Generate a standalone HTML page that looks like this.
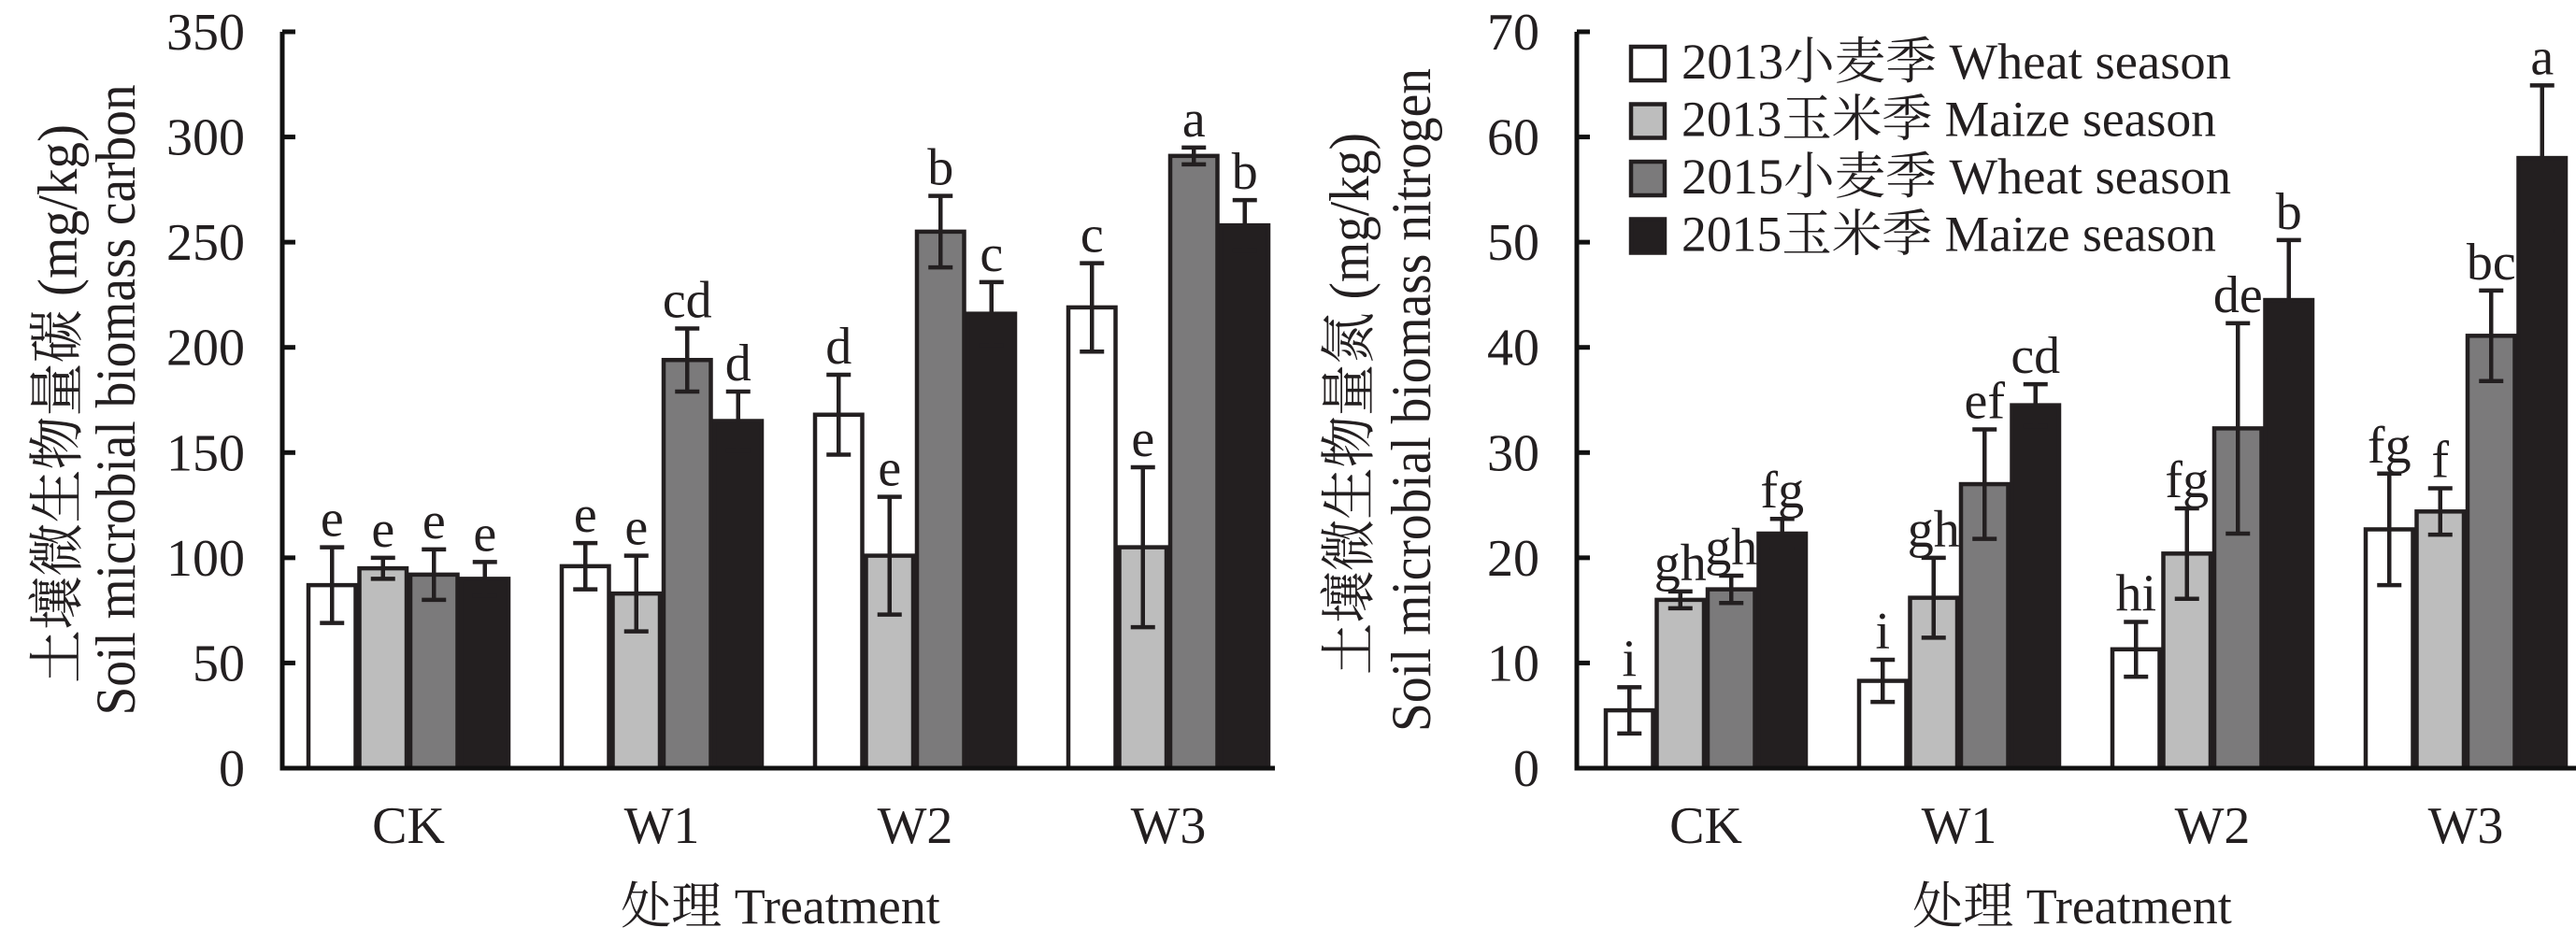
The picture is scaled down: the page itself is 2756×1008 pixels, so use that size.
<!DOCTYPE html>
<html><head><meta charset="utf-8"><style>
html,body{margin:0;padding:0;background:#fff;}
svg{display:block;}
text{font-family:"Liberation Serif","Noto Serif CJK SC","Noto Sans CJK SC",serif;fill:#231f20;}
</style></head><body>
<svg id="chart" width="2756" height="1008" viewBox="0 0 2756 1008" xmlns="http://www.w3.org/2000/svg"></svg>
<script>
const categories = ["CK","W1","W2","W3"];
const seriesNames = ["2013小麦季 Wheat season","2013玉米季 Maize season","2015小麦季 Wheat season","2015玉米季 Maize season"];
const carbonVals = [[87,95,92,90],[96,83,194,165],[168,101,255,216],[219,105,291,258]];
const carbonErr = [[18,5,12,8],[11,18,15,14],[19,28,17,15],[21,38,4,12]];
const carbonLetters = [["e","e","e","e"],["e","e","cd","d"],["d","e","b","c"],["c","e","a","b"]];
const carbonTicks = [0,50,100,150,200,250,300,350];
const nitroVals = [[5.5,16,17,22.3],[8.3,16.2,27,34.5],[11.3,20.4,32.3,44.5],[22.7,24.4,41.1,58]];
const nitroErr = [[2.2,0.8,1.3,1.4],[2,3.8,5.2,2],[2.6,4.3,10,5.7],[5.3,2.2,4.3,6.9]];
const nitroLetters = [["i","gh","gh","fg"],["i","gh","ef","cd"],["hi","fg","de","b"],["fg","f","bc","a"]];
const nitroTicks = [0,10,20,30,40,50,60,70];

const NS="http://www.w3.org/2000/svg";
const svg=document.getElementById('chart');
const fills=["#ffffff","#bdbdbd","#7b7a7b","#231f20"];
function mk(tag,attrs,parent){const e=document.createElementNS(NS,tag);for(const k in attrs)e.setAttribute(k,attrs[k]);(parent||svg).appendChild(e);return e;}

function drawPanel(p){
  const g=mk('g',{});
  
  
  const y=v=>p.y0-(v/p.ymax)*(p.y0-p.ytop);
  const bw=54.5, step=271;
  const groupX=i=>p.gx+step*i;
  categories.forEach((c,i)=>{
    for(let s=0;s<4;s++){
      const v=p.vals[i][s], e=p.err[i][s];
      const x=groupX(i)+bw*s;
      const r=mk('rect',{x:x+2,y:y(v),width:bw-4,height:p.y0-y(v),fill:fills[s],stroke:'#231f20','stroke-width':4.5},g);
      
      
      const cx=x+bw/2;
      const eb=mk('path',{d:`M${cx},${y(v+e)}V${y(v-e)}M${cx-13},${y(v+e)}H${cx+13}M${cx-13},${y(v-e)}H${cx+13}`,stroke:'#231f20','stroke-width':4.5,fill:'none'},g);
      
      
      const t=mk('text',{x:cx,y:y(v+e)-12,'text-anchor':'middle','font-size':56},g);
      t.textContent=p.letters[i][s];
      
      
    }
    const ct=mk('text',{x:groupX(i)+bw*2,y:902,'text-anchor':'middle','font-size':56},g);
    ct.textContent=c;
    
    
  });
  const ax=mk('path',{d:`M${p.ax},${p.ytop}V${p.y0}H${p.xend}`,stroke:'#111','stroke-width':5,fill:'none'},g);
  
  
  p.ticks.forEach(tv=>{
    const tk=mk('line',{x1:p.ax,x2:p.ax+14,y1:y(tv),y2:y(tv),stroke:'#111','stroke-width':5},g);
    
    
    const tl=mk('text',{x:p.ax-40,y:y(tv)+19,'text-anchor':'end','font-size':56},g);
    tl.textContent=tv;
    
    
  });
  const xt=mk('text',{x:p.xtx,y:988,'text-anchor':'middle','font-size':54},g);
  xt.textContent='处理 Treatment';
  
  
  const y1=mk('text',{x:0,y:0,'text-anchor':'middle','font-size':60,textLength:p.t1len,lengthAdjust:'spacingAndGlyphs',transform:`translate(${p.t1x},432) rotate(-90)`},g);
  y1.textContent=p.title1;
  
  
  const y2=mk('text',{x:0,y:0,'text-anchor':'middle','font-size':60,textLength:p.t2len,lengthAdjust:'spacingAndGlyphs',transform:`translate(${p.t2x},428) rotate(-90)`},g);
  y2.textContent=p.title2;
  
  
}

drawPanel({name:'carbon-chart',vals:carbonVals,err:carbonErr,letters:carbonLetters,ticks:carbonTicks,ymax:350,
  y0:822,ytop:34,ax:302,xend:1364,gx:328,xtx:835,t1x:82,t2x:144,t1len:598,t2len:675,
  title1:'土壤微生物量碳 (mg/kg)',title2:'Soil microbial biomass carbon'});
drawPanel({name:'nitrogen-chart',vals:nitroVals,err:nitroErr,letters:nitroLetters,ticks:nitroTicks,ymax:70,
  y0:822,ytop:34,ax:1687,xend:2756,gx:1716,xtx:2217,t1x:1464,t2x:1530,t1len:580,t2len:710,
  title1:'土壤微生物量氮 (mg/kg)',title2:'Soil microbial biomass nitrogen'});

const lg=mk('g',{});


seriesNames.forEach((n,i)=>{
  const top=48+61.5*i;
  const r=mk('rect',{x:1745,y:top+2,width:36,height:36,fill:fills[i],stroke:'#231f20','stroke-width':4.5},lg);
  
  
  const t=mk('text',{x:1799,y:top+36,'font-size':54,textLength:i%2?572:588,lengthAdjust:'spacingAndGlyphs'},lg);
  t.textContent=n;
  
  
});
</script>
</body></html>
